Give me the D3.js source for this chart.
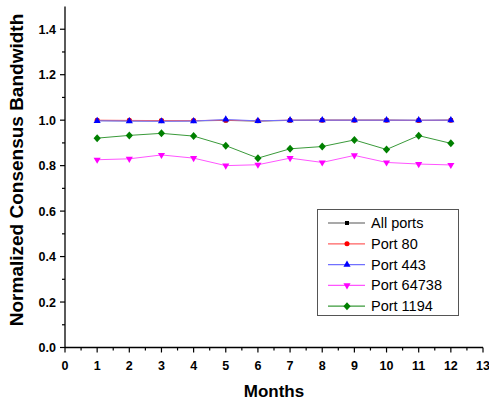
<!DOCTYPE html>
<html><head><meta charset="utf-8">
<script src="https://cdn.jsdelivr.net/npm/d3@7"></script>
<style>body{margin:0;background:#fff}svg{display:block}text{font-family:Arial,"Liberation Sans",sans-serif}</style>
</head><body>
<script>
const months = [1,2,3,4,5,6,7,8,9,10,11,12];
const seriesNames = ["All ports","Port 80","Port 443","Port 64738","Port 1194"];
const allPorts = [0.998,0.997,0.997,0.997,0.999,0.996,0.999,1.0,1.0,1.0,0.999,1.0];
const port80   = [1.0,0.999,0.998,0.998,1.0,0.997,1.0,1.0,1.0,1.0,0.999,1.0];
const port443  = [0.997,0.996,0.995,0.996,1.003,0.997,1.0,1.0,1.0,1.0,1.0,1.0];
const port64738 = [0.826,0.830,0.847,0.833,0.800,0.804,0.833,0.814,0.845,0.814,0.807,0.803];
const port1194  = [0.921,0.933,0.942,0.930,0.888,0.833,0.874,0.884,0.913,0.871,0.932,0.898];
const xTicks = [0,1,2,3,4,5,6,7,8,9,10,11,12,13];
const yTicks = [0,0.2,0.4,0.6,0.8,1.0,1.2,1.4];

const W=489,H=403;
const svg=d3.select("body").append("svg").attr("width",W).attr("height",H);
const x=d3.scaleLinear().domain([0,13]).range([65,483]);
const y=d3.scaleLinear().domain([0,1.5]).range([347.5,6.5]);

const diamondPath="M0,-4L3.6,0L0,4L-3.6,0Z";
const series=[
 {name:seriesNames[0],vals:allPorts,color:"#000000",sym:d3.symbolSquare,size:16,line:"#555"},
 {name:seriesNames[1],vals:port80,color:"#ff0000",sym:d3.symbolCircle,size:20,line:"#ff6060"},
 {name:seriesNames[2],vals:port443,color:"#0000ff",sym:d3.symbolTriangle,size:22,line:"#7070ff"},
 {name:seriesNames[3],vals:port64738,color:"#ff00ff",sym:"down",size:22,line:"#ff55ff"},
 {name:seriesNames[4],vals:port1194,color:"#008000",sym:"diamond",size:22,line:"#3a9a3a"}
];
function marker(g,s,cx,cy){
  if(s.sym==="down"){
    g.append("path").attr("d",d3.symbol(d3.symbolTriangle,s.size)()).attr("transform",`translate(${cx},${cy}) rotate(180)`).attr("fill",s.color);
  } else if(s.sym==="diamond"){
    g.append("path").attr("d",diamondPath).attr("transform",`translate(${cx},${cy})`).attr("fill",s.color);
  } else {
    g.append("path").attr("d",d3.symbol(s.sym,s.size)()).attr("transform",`translate(${cx},${cy})`).attr("fill",s.color);
  }
}
// axes
const xAxis=svg.append("g").attr("transform",`translate(0,${y(0)})`);
xAxis.append("line").attr("x1",x(0)).attr("x2",x(13)).attr("stroke","#000").attr("stroke-width",1.3);
d3.range(0,13.01,0.5).forEach(v=>{
  const major=Number.isInteger(v);
  xAxis.append("line").attr("x1",x(v)).attr("x2",x(v)).attr("y1",0).attr("y2",major?5:3).attr("stroke","#000").attr("stroke-width",1.2);
});
xTicks.forEach(v=>xAxis.append("text").attr("x",x(v)).attr("y",22).attr("text-anchor","middle").attr("font-size",12.5).attr("font-weight","bold").text(v));
const yAxis=svg.append("g").attr("transform",`translate(${x(0)},0)`);
yAxis.append("line").attr("y1",y(0)).attr("y2",y(1.5)).attr("stroke","#000").attr("stroke-width",1.3);
d3.range(0,15).forEach(i=>{
  const v=i/10, major=i%2===0;
  yAxis.append("line").attr("y1",y(v)).attr("y2",y(v)).attr("x1",0).attr("x2",major?-5:-3).attr("stroke","#000").attr("stroke-width",1.2);
});
yTicks.forEach(v=>yAxis.append("text").attr("x",-9).attr("y",y(v)+4.5).attr("text-anchor","end").attr("font-size",12.5).attr("font-weight","bold").text(v.toFixed(1)));
svg.append("text").attr("x",(x(0)+x(13))/2).attr("y",397).attr("text-anchor","middle").attr("font-size",17).attr("font-weight","bold").text("Months");
svg.append("text").attr("transform",`translate(22.5,170) rotate(-90)`).attr("text-anchor","middle").attr("font-size",19).attr("font-weight","bold").text("Normalized Consensus Bandwidth");

// series
const line=d3.line().x((d,i)=>x(months[i])).y(d=>y(d));
series.forEach(s=>{
  const g=svg.append("g");
  g.append("path").attr("d",line(s.vals)).attr("fill","none").attr("stroke",s.line).attr("stroke-width",1);
  s.vals.forEach((v,i)=>marker(g,s,x(months[i]),y(v)));
});

// legend
const lg=svg.append("g");
lg.append("rect").attr("x",317.5).attr("y",209.5).attr("width",141).attr("height",106).attr("fill","#fff").attr("stroke","#555").attr("stroke-width",1);
series.forEach((s,i)=>{
  const cy=223+i*20.8;
  lg.append("line").attr("x1",328).attr("x2",365).attr("y1",cy).attr("y2",cy).attr("stroke",s.line).attr("stroke-width",1.2);
  marker(lg,s,347,cy);
  lg.append("text").attr("x",371).attr("y",cy+5).attr("font-size",14.5).text(s.name);
});
</script>
</body></html>
